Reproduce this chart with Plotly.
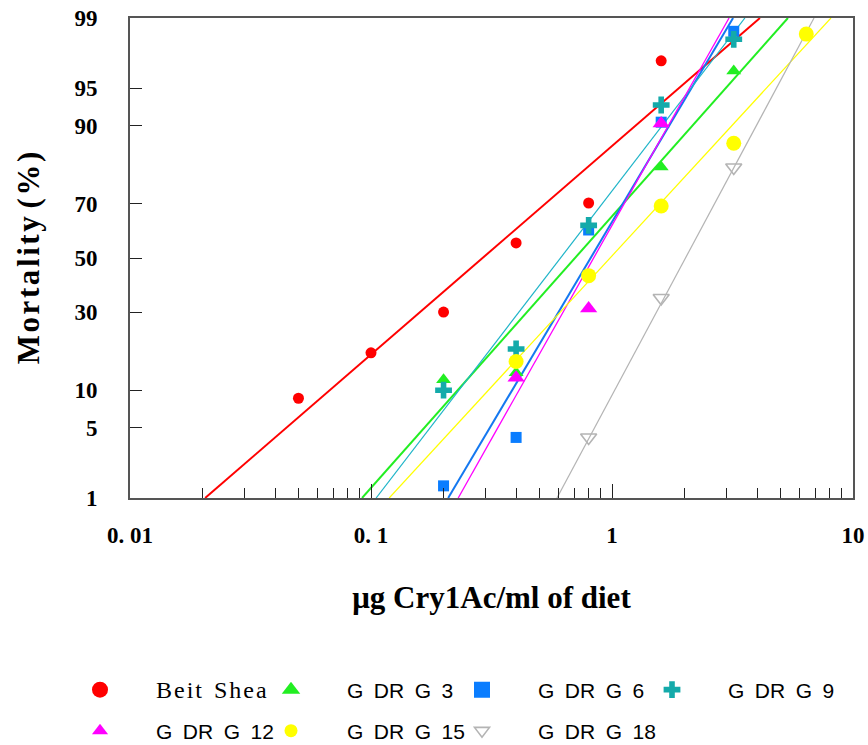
from statistics import NormalDist
import plotly.graph_objects as go

# ---------------- data ----------------
series_names = ["Beit Shea", "G DR G 3", "G DR G 6", "G DR G 9",
                "G DR G 12", "G DR G 15", "G DR G 18"]

beit_dose = [0.05, 0.1, 0.2, 0.4, 0.8, 1.6]
beit_mort = [8.7, 17.9, 30.0, 55.8, 70.3, 97.2]

g3_dose = [0.2, 0.4, 1.6, 3.2]
g3_mort = [11.9, 13.3, 81.1, 96.5]

g6_dose = [0.2, 0.4, 0.8, 1.6, 3.2]
g6_mort = [1.36, 4.1, 60.7, 90.6, 98.6]

g9_dose = [0.2, 0.4, 0.8, 1.6, 3.2]
g9_mort = [10.0, 18.9, 62.4, 93.1, 98.3]

g12_dose = [0.4, 0.8, 1.6]
g12_mort = [12.3, 31.2, 90.4]

g15_dose = [0.4, 0.8, 1.6, 3.2, 6.4]
g15_mort = [15.8, 43.2, 69.3, 86.7, 98.5]

g18_dose = [0.8, 1.6, 3.2]
g18_mort = [4.1, 34.9, 81.0]

# fitted probit lines: dose at which the line reaches fit_pct[0] and fit_pct[1]
fit_pct = [1, 99]
fit_beit = [0.0205, 4.11]
fit_g3 = [0.0918, 5.37]
fit_g6 = [0.209, 3.18]
fit_g9 = [0.105, 3.56]
fit_g12 = [0.230, 3.06]
fit_g15 = [0.119, 8.1]
fit_g18 = [0.591, 6.89]

y_tick_pct = [1, 5, 10, 30, 50, 70, 90, 95, 99]
y_tick_text = ["1", "5", "10", "30", "50", "70", "90", "95", "99"]
x_tick_vals = [0.01, 0.1, 1, 10]
x_tick_text = ["0. 01", "0. 1", "1", "10"]

# ---------------- helpers ----------------
nd = NormalDist()


def probit(values):
    return [nd.inv_cdf(v / 100.0) for v in values]


minor_vals = [d * 10 ** e for e in (-2, -1, 0) for d in range(2, 10)]

styles = [
    dict(color="#FF0000", symbol="circle", size=11, lsize=16, lw=2.0, lcolor="#FF0000"),
    dict(color="#22EE22", symbol="triangle-up", size=13, lsize=16, lw=2.0, lcolor="#22EE22"),
    dict(color="#0A7DFF", symbol="square", size=11, lsize=16, lw=2.0, lcolor="#1478F0"),
    dict(color="#14AAAA", symbol="cross", size=14, lsize=14, lw=1.2, lcolor="#1EB4C8"),
    dict(color="#FF00FF", symbol="triangle-up", size=15, lsize=14, lw=1.3, lcolor="#FF00FF"),
    dict(color="#FFFF00", symbol="circle", size=15, lsize=13, lw=1.2, lcolor="#FFFF00"),
    dict(color="#B4B4B4", symbol="triangle-down-open", size=14, lsize=13, lw=1.2, lcolor="#B4B4B4"),
]

doses = [beit_dose, g3_dose, g6_dose, g9_dose, g12_dose, g15_dose, g18_dose]
morts = [beit_mort, g3_mort, g6_mort, g9_mort, g12_mort, g15_mort, g18_mort]
fits = [fit_beit, fit_g3, fit_g6, fit_g9, fit_g12, fit_g15, fit_g18]

EN = "\u2002"
HAIR = "\u200a"


def legend_label(name, i):
    if i == 0:
        spaced = HAIR.join(list("Beit")) + EN + HAIR.join(list("Shea"))
        return '<span style="font-family:Liberation Serif;font-size:24px">' + spaced + "</span>"
    return name.replace(" ", EN)


fig = go.Figure()

# fitted lines first
for name, fit, st in zip(series_names, fits, styles):
    fig.add_trace(go.Scatter(
        x=fit, y=probit(fit_pct), mode="lines",
        line=dict(color=st["lcolor"], width=st["lw"]),
        showlegend=False, hoverinfo="skip"))


def make_marker(st, size):
    m = dict(color=st["color"], symbol=st["symbol"], size=size)
    if st["symbol"].endswith("open"):
        m["line"] = dict(color=st["color"], width=1.6)
    return m


# observed points
for name, x, y, st in zip(series_names, doses, morts, styles):
    fig.add_trace(go.Scatter(
        x=x, y=probit(y), mode="markers", name=name,
        marker=make_marker(st, st["size"]), showlegend=False))

# legend key: one small legend per entry, 4 columns x 2 rows
legend_ids = ["legend"] + ["legend%d" % k for k in range(2, 8)]
for i, (name, st) in enumerate(zip(series_names, styles)):
    fig.add_trace(go.Scatter(
        x=[None], y=[None], mode="markers", name=legend_label(name, i),
        marker=make_marker(st, st["lsize"]),
        legend=legend_ids[i], showlegend=True))

tick_font = dict(family="Liberation Serif", size=23, color="black", weight="bold")
xtitle_font = dict(family="Liberation Serif", size=31, color="black", weight="bold")
ytitle_font = dict(family="Liberation Serif", size=31, color="black", weight="bold")

ytitle = HAIR.join(list("Mortality")) + " " + HAIR.join(list("(%)"))

# plot area in pixels: left 130, width 723, top 18, height 480
col_left_px = [44, 235, 426, 616]
row_mid_px = [690, 731]

legend_layouts = {}
for i, lid in enumerate(legend_ids):
    r, c = divmod(i, 4)
    legend_layouts[lid] = dict(
        orientation="h",
        x=(col_left_px[c] - 130) / 723, xanchor="left",
        y=(498 - row_mid_px[r]) / 480, yanchor="middle",
        itemwidth=102,
        font=dict(family="Liberation Sans", size=21, color="black"),
        bgcolor="rgba(0,0,0,0)", itemclick=False, itemdoubleclick=False,
        itemsizing="trace",
    )

fig.update_layout(
    width=868, height=745,
    margin=dict(l=130, r=15, t=18, b=247, autoexpand=False),
    paper_bgcolor="white", plot_bgcolor="white",
    showlegend=True,
    xaxis=dict(
        type="log", range=[-2, 1], automargin=False,
        tickvals=x_tick_vals, ticktext=x_tick_text,
        ticks="inside", ticklen=14, tickwidth=1.3, tickcolor="#222",
        minor=dict(tickvals=minor_vals, ticks="inside", ticklen=10,
                   tickwidth=1.3, tickcolor="#222", showgrid=False),
        showline=True, linecolor="#555", linewidth=2, mirror=True,
        showgrid=False, zeroline=False,
        tickfont=tick_font, ticklabelstandoff=15,
        title=dict(text="μg Cry1Ac/ml of diet", font=xtitle_font, standoff=40),
    ),
    yaxis=dict(
        range=probit(fit_pct), automargin=False,
        tickvals=probit(y_tick_pct), ticktext=y_tick_text,
        ticks="inside", ticklen=12, tickwidth=1.3, tickcolor="#222",
        showline=True, linecolor="#555", linewidth=2, mirror=True,
        showgrid=False, zeroline=False,
        tickfont=tick_font, ticklabelstandoff=26,
        title=dict(text=ytitle, font=ytitle_font, standoff=26),
    ),
    **legend_layouts,
)

fig.write_html(
    "out.html",
    config={"displayModeBar": False},
    post_script="document.body.style.margin='0';document.body.style.overflow='hidden';",
)
